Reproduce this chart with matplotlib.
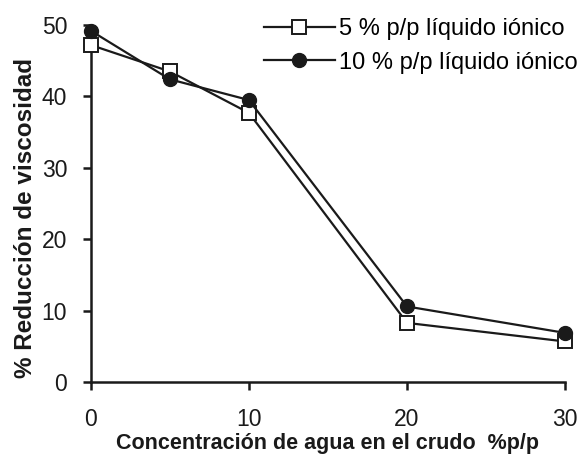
import matplotlib.pyplot as plt

plt.rcParams['font.family'] = ['Liberation Sans', 'DejaVu Sans']

# data
agua = [0, 5, 10, 20, 30]
red_5 = [47.2, 43.5, 37.7, 8.3, 5.7]    # 5 % p/p liquido ionico
red_10 = [49.2, 42.4, 39.5, 10.6, 6.9]  # 10 % p/p liquido ionico
xticks = [0, 10, 20, 30]
yticks = [0, 10, 20, 30, 40, 50]

fig = plt.figure(figsize=(5.82, 4.55), dpi=100)
ax = fig.add_axes([0.156, 0.160, 0.815, 0.785])

ink = '#1a1a1a'
ax.plot(agua, red_5, color=ink, lw=1.6, marker='s', ms=10, clip_on=False,
        mfc='white', mec=ink, mew=1.4, label='5 % p/p líquido iónico', zorder=3)
ax.plot(agua, red_10, color=ink, lw=1.6, marker='o', ms=10, clip_on=False,
        mfc=ink, mec=ink, label='10 % p/p líquido iónico', zorder=3)

ax.set_xlim(0, 30)
ax.set_ylim(0, 50)
ax.set_xticks(xticks)
ax.set_yticks(yticks)
for s in ['top', 'right']:
    ax.spines[s].set_visible(False)
for s in ['left', 'bottom']:
    ax.spines[s].set_linewidth(1.8)
    ax.spines[s].set_color(ink)
ax.tick_params(axis='both', labelsize=16.5, width=1.8, length=6, colors=ink)
ax.tick_params(axis='x', pad=12.5)
ax.tick_params(axis='y', pad=11)

ax.set_xlabel('Concentración de agua en el crudo  %p/p', fontsize=15.5,
              fontweight='bold', color=ink, va='top')
ax.xaxis.set_label_coords(0.5, -0.143)
ax.set_ylabel('% Reducción de viscosidad', fontsize=17.5, fontweight='bold',
              color=ink)
ax.yaxis.set_label_coords(-0.114, 0.46)

ax.legend(loc='upper right', bbox_to_anchor=(1.027, 1.02), frameon=False,
          fontsize=17, handlelength=3.0, handletextpad=0.2,
          labelspacing=0.5, borderaxespad=0, borderpad=0)

fig.savefig('out.png', dpi=100)
